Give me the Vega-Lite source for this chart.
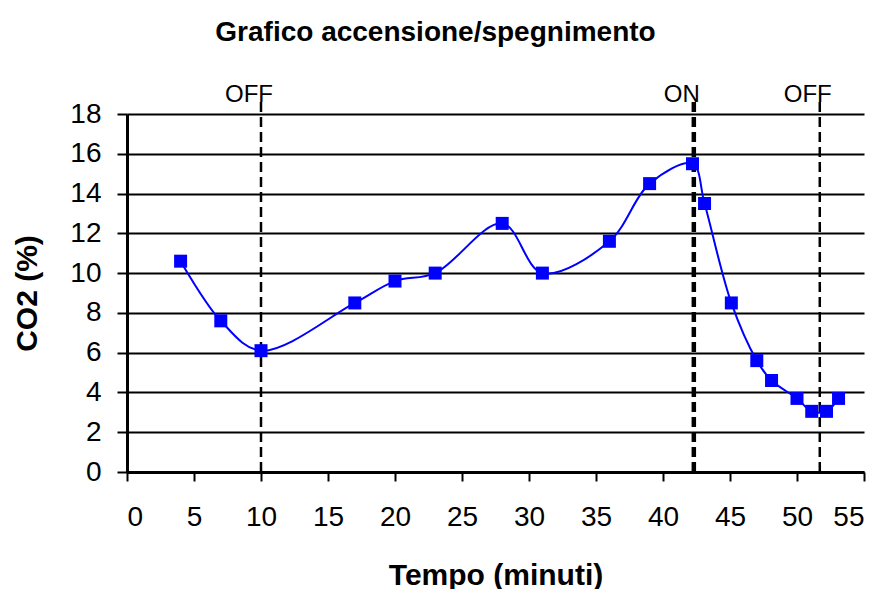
{
  "$schema": "https://vega.github.io/schema/vega-lite/v6.json",
  "width": 737,
  "height": 358,
  "autosize": {"type": "none"},
  "padding": {"left": 127, "top": 114, "right": 20, "bottom": 117},
  "background": "white",
  "title": {
    "text": "Grafico accensione/spegnimento",
    "font": "Liberation Sans",
    "fontSize": 28,
    "fontWeight": "bold",
    "color": "black",
    "anchor": "middle",
    "frame": "group",
    "dx": -60,
    "offset": 36
  },
  "config": {
    "view": {"stroke": null},
    "axis": {
      "labelFont": "Liberation Sans",
      "titleFont": "Liberation Sans",
      "labelColor": "black",
      "titleColor": "black",
      "domainColor": "black",
      "tickColor": "black",
      "gridColor": "black",
      "labelOverlap": false
    }
  },
  "datasets": {
    "co2": [
      {"t": 4, "co2": 10.6},
      {"t": 7, "co2": 7.6},
      {"t": 10, "co2": 6.1},
      {"t": 17, "co2": 8.5},
      {"t": 20, "co2": 9.6},
      {"t": 23, "co2": 10.0},
      {"t": 28, "co2": 12.5},
      {"t": 31, "co2": 10.0},
      {"t": 36, "co2": 11.6},
      {"t": 39, "co2": 14.5},
      {"t": 42.2, "co2": 15.5},
      {"t": 43.1, "co2": 13.5},
      {"t": 45.1, "co2": 8.5},
      {"t": 47, "co2": 5.6},
      {"t": 48.1, "co2": 4.6},
      {"t": 50, "co2": 3.7},
      {"t": 51.1, "co2": 3.05},
      {"t": 52.2, "co2": 3.05},
      {"t": 53.1, "co2": 3.7}
    ],
    "events": [
      {"t": 10, "label": "OFF"},
      {"t": 42.3, "label": "ON"},
      {"t": 51.7, "label": "OFF"}
    ]
  },
  "encoding": {
    "x": {
      "field": "t", "type": "quantitative",
      "scale": {"domain": [0, 55], "nice": false},
      "axis": {
        "title": "Tempo (minuti)",
        "values": [0, 5, 10, 15, 20, 25, 30, 35, 40, 45, 50, 55],
        "tickCount": 20,
        "grid": false,
        "domainWidth": 3,
        "tickWidth": 2,
        "tickSize": 9,
        "labelFontSize": 28,
        "labelPadding": 22,
        "titleFontSize": 30,
        "titleFontWeight": "bold",
        "titleBaseline": "middle",
        "titleY": 103
      }
    }
  },
  "layer": [
    {
      "data": {"name": "events"},
      "mark": {"type": "rule", "color": "black", "strokeDash": [10, 5]},
      "encoding": {
        "y": {
          "datum": 0, "type": "quantitative",
          "scale": {"domain": [0, 18], "nice": false},
          "axis": {
            "title": "CO2 (%)",
            "values": [0, 2, 4, 6, 8, 10, 12, 14, 16, 18],
            "tickCount": 20,
            "grid": true,
            "gridWidth": 2,
            "domainWidth": 3,
            "tickWidth": 2,
            "tickSize": 10,
            "labelFontSize": 28,
            "labelPadding": 16,
            "titleFontSize": 30,
            "titleFontWeight": "bold",
            "titleAngle": -90,
            "titleAlign": "center",
            "titleBaseline": "middle",
            "titleX": -100,
            "titleY": 179
          }
        },
        "y2": {"datum": 18.6},
        "strokeWidth": {"condition": {"test": "datum.label === 'ON'", "value": 4.5}, "value": 2.5}
      }
    },
    {
      "data": {"name": "co2"},
      "mark": {"type": "line", "color": "#0000FF", "strokeWidth": 2, "interpolate": "catmull-rom"},
      "encoding": {
        "y": {"field": "co2", "type": "quantitative"}
      }
    },
    {
      "data": {"name": "co2"},
      "mark": {"type": "square", "color": "#0000FF", "opacity": 1, "filled": true, "size": 169},
      "encoding": {
        "y": {"field": "co2", "type": "quantitative"}
      }
    },
    {
      "data": {"name": "events"},
      "mark": {"type": "text", "font": "Liberation Sans", "fontSize": 24, "color": "black", "align": "center", "baseline": "middle", "dx": -12, "dy": -19},
      "encoding": {
        "y": {"datum": 18, "type": "quantitative"},
        "text": {"field": "label"}
      }
    }
  ]
}
